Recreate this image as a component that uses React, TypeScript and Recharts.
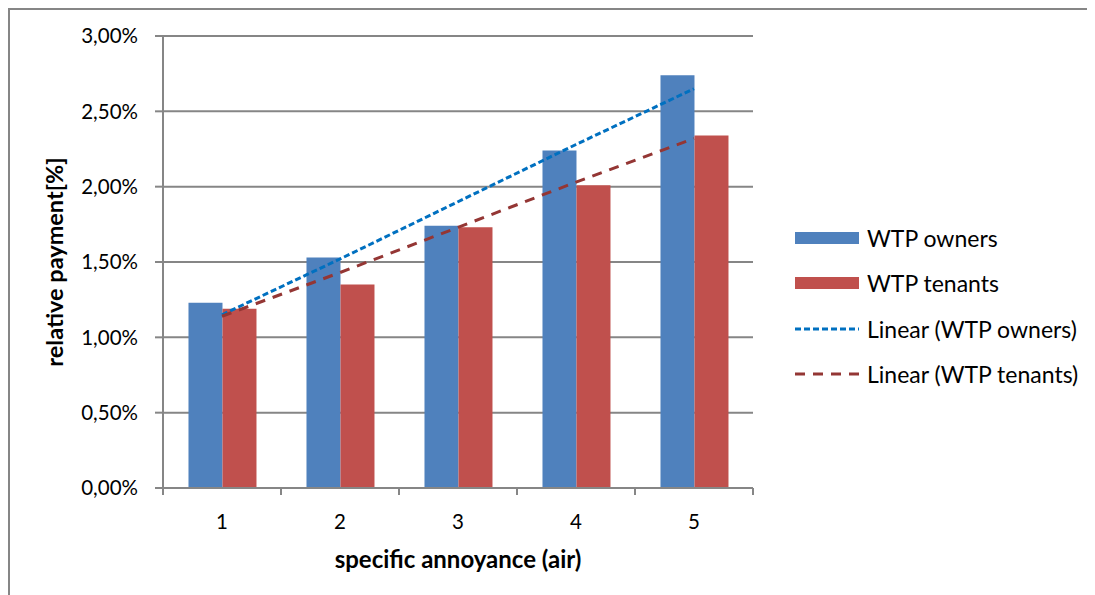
import React from "react";
import { ComposedChart, Bar, Line, XAxis, YAxis, CartesianGrid } from "recharts";

const categories = ["1", "2", "3", "4", "5"];
const ownersValues = [1.23, 1.53, 1.74, 2.24, 2.74];
const tenantsValues = [1.19, 1.35, 1.73, 2.01, 2.34];
const ownersTrend = [1.15, 1.52, 1.9, 2.28, 2.65];
const tenantsTrend = [1.14, 1.43, 1.73, 2.03, 2.32];
const yTicks = [0, 0.5, 1, 1.5, 2, 2.5, 3];

const seriesNames = ["WTP owners", "WTP tenants", "Linear (WTP owners)", "Linear (WTP tenants)"];

const BLUE = "#4F81BD";
const RED = "#C0504D";
const BLUE_TREND = "#0070C0";
const RED_TREND = "#943634";
const GRAY = "#868686";
const FONT = "Lato, 'Open Sans', sans-serif";

const data = categories.map((c, i) => ({
  cat: c,
  owners: ownersValues[i],
  tenants: tenantsValues[i],
  ownersTrend: ownersTrend[i],
  tenantsTrend: tenantsTrend[i],
}));

const fmt = (v: number) => v.toFixed(2).replace(".", ",") + "%";

const HALF_BAND = 59;

const XTick = (props: any) => {
  const { x, y, payload, index } = props;
  const last = index === categories.length - 1;
  return (
    <g>
      <line x1={x - HALF_BAND} x2={x - HALF_BAND} y1={y} y2={y + 7} stroke={GRAY} strokeWidth={2} />
      {last && <line x1={x + HALF_BAND} x2={x + HALF_BAND} y1={y} y2={y + 7} stroke={GRAY} strokeWidth={2} />}
      <text x={x} y={y + 33} textAnchor="middle" dominantBaseline="central" fontFamily={FONT} fontSize={20.5} fill="#000">
        {payload.value}
      </text>
    </g>
  );
};

const legendItems = [
  { name: seriesNames[0], type: "bar", color: BLUE },
  { name: seriesNames[1], type: "bar", color: RED },
  { name: seriesNames[2], type: "line", color: BLUE_TREND, dash: "6 3" },
  { name: seriesNames[3], type: "line", color: RED_TREND, dash: "10 8" },
];

export default function App() {
  return (
    <div
      style={{
        position: "relative",
        width: 1100,
        height: 600,
        borderTop: `2px solid ${GRAY}`,
        borderLeft: `2px solid ${GRAY}`,
        background: "#fff",
      }}
    >
      <style>{`html,body{overflow:hidden}`}</style>
      <ComposedChart
        width={1085}
        height={585}
        data={data}
        margin={{ top: 26, right: 342, bottom: 0, left: 0 }}
        barCategoryGap="21.6%"
        barGap={0}
      >
        <CartesianGrid horizontal vertical={false} stroke={GRAY} strokeWidth={2} />
        <XAxis
          dataKey="cat"
          height={107}
          axisLine={{ stroke: GRAY, strokeWidth: 2 }}
          tickLine={false}
          tickSize={0}
          tickMargin={0}
          tick={<XTick />}
          interval={0}
          label={{
            content: (p: any) => {
              const vb = p.viewBox || {};
              return (
                <text
                  x={vb.x + vb.width / 2}
                  y={548}
                  textAnchor="middle"
                  dominantBaseline="central"
                  fontFamily={FONT}
                  fontWeight="bold"
                  fontSize={24}
                  fill="#000"
                >
                  specific annoyance (air)
                </text>
              );
            },
          }}
        />
        <YAxis
          width={153}
          domain={[0, 3]}
          ticks={yTicks}
          interval={0}
          tickFormatter={fmt}
          axisLine={{ stroke: GRAY, strokeWidth: 2 }}
          tickLine={{ stroke: GRAY, strokeWidth: 2 }}
          tickSize={8}
          tickMargin={17}
          tick={{ fontFamily: FONT, fontSize: 20.5, fill: "#000" }}
          label={{
            content: (p: any) => {
              const vb = p.viewBox || {};
              const cy = vb.y + vb.height / 2;
              return (
                <text
                  x={44}
                  y={cy}
                  transform={`rotate(-90, 44, ${cy})`}
                  textAnchor="middle"
                  dominantBaseline="central"
                  fontFamily={FONT}
                  fontWeight="bold"
                  fontSize={23.5}
                  fill="#000"
                >
                  relative payment[%]
                </text>
              );
            },
          }}
        />
        <Bar dataKey="owners" name={seriesNames[0]} fill={BLUE} isAnimationActive={false} />
        <Bar dataKey="tenants" name={seriesNames[1]} fill={RED} isAnimationActive={false} />
        <Line
          dataKey="ownersTrend"
          name={seriesNames[2]}
          stroke={BLUE_TREND}
          strokeWidth={3}
          strokeDasharray="6 3"
          dot={false}
          activeDot={false}
          isAnimationActive={false}
        />
        <Line
          dataKey="tenantsTrend"
          name={seriesNames[3]}
          stroke={RED_TREND}
          strokeWidth={3}
          strokeDasharray="10 8"
          dot={false}
          activeDot={false}
          isAnimationActive={false}
        />
      </ComposedChart>
      <div style={{ position: "absolute", left: 785, top: 205 }}>
        {legendItems.map((it) => (
          <div key={it.name} style={{ display: "flex", alignItems: "center", height: 45.5 }}>
            <svg width={66} height={14} style={{ marginRight: 6 }}>
              {it.type === "bar" ? (
                <rect x={0} y={1} width={64} height={12} fill={it.color} />
              ) : (
                <line x1={0} x2={64} y1={7} y2={7} stroke={it.color} strokeWidth={3} strokeDasharray={it.dash} />
              )}
            </svg>
            <span style={{ fontFamily: FONT, fontSize: 23, color: "#000", whiteSpace: "nowrap" }}>{it.name}</span>
          </div>
        ))}
      </div>
    </div>
  );
}
